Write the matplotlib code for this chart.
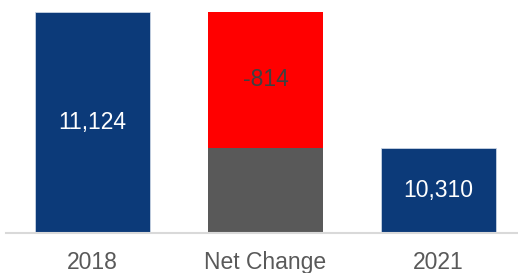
import matplotlib
matplotlib.use("Agg")
import matplotlib.pyplot as plt

categories = ["2018", "Net Change", "2021"]
start_value = 11124
net_change = -814
end_value = 10310
axis_floor = 9800

navy = "#0c3a79"
red = "#ff0000"
grey = "#595959"

plt.rcParams["font.family"] = ["Liberation Sans", "DejaVu Sans"]

fig = plt.figure(figsize=(5.18, 2.73), dpi=100)
ax = fig.add_axes([6 / 518, 40 / 273, 1 - 6 / 518, 233 / 273])

w = 0.665
# totals
ax.bar([0, 2], [start_value - axis_floor, end_value - axis_floor], bottom=axis_floor,
       width=w, color=navy, edgecolor="#c9d3e3", linewidth=0.6)
# net change: grey base + red change
ax.bar(1, end_value - axis_floor, bottom=axis_floor, width=w, color=grey, linewidth=0)
ax.bar(1, -net_change, bottom=end_value, width=w, color=red, linewidth=0)

fs = 16.5
ax.text(0, (start_value + axis_floor) / 2, f"{start_value:,}", ha="center", va="center",
        color="white", fontsize=fs)
ax.text(1, end_value - net_change / 2, f"{net_change:,}", ha="center", va="center",
        color="#404040", fontsize=fs)
ax.text(2, (end_value + axis_floor) / 2, f"{end_value:,}", ha="center", va="center",
        color="white", fontsize=fs)

ax.set_xlim(-0.5, 2.46)
ax.set_ylim(axis_floor, 11195)
ax.set_xticks(range(len(categories)))
ax.set_xticklabels(categories, fontsize=fs, color=grey)
ax.tick_params(axis="x", length=0, pad=13)
ax.set_yticks([])
for s in ["top", "right", "left"]:
    ax.spines[s].set_visible(False)
ax.spines["bottom"].set_color("#d9d9d9")
ax.spines["bottom"].set_linewidth(1.5)

fig.savefig("out.png", dpi=100)
